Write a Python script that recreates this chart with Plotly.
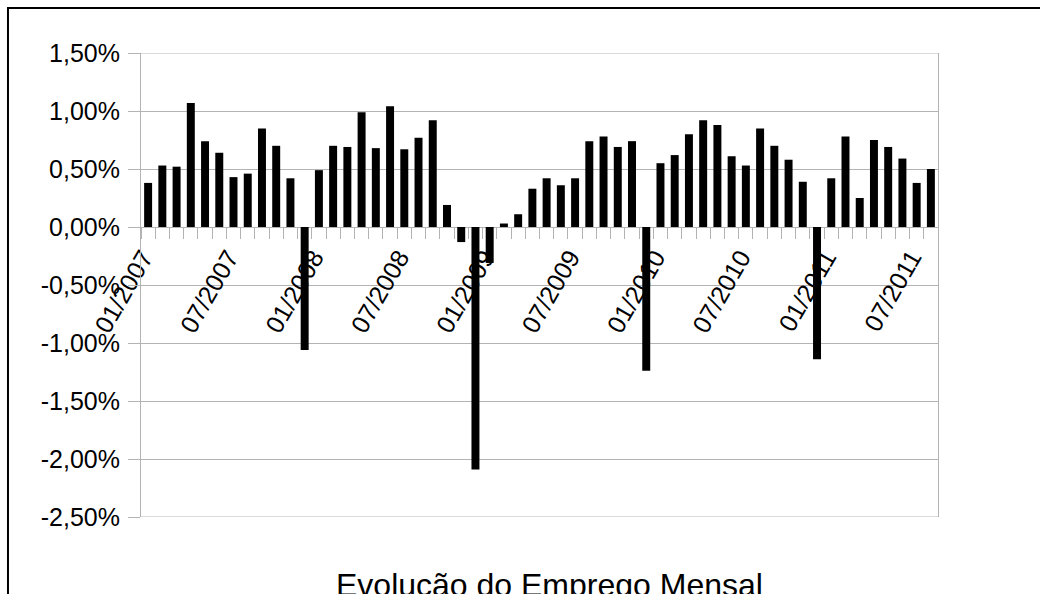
import plotly.graph_objects as go

# Monthly employment change (%), Jan 2007 - Aug 2011
years = [2007, 2008, 2009, 2010, 2011]
values_2007 = [0.38, 0.53, 0.52, 1.07, 0.74, 0.64, 0.43, 0.46, 0.85, 0.70, 0.42, -1.06]
values_2008 = [0.49, 0.70, 0.69, 0.99, 0.68, 1.04, 0.67, 0.77, 0.92, 0.19, -0.13, -2.09]
values_2009 = [-0.31, 0.03, 0.11, 0.33, 0.42, 0.36, 0.42, 0.74, 0.78, 0.69, 0.74, -1.24]
values_2010 = [0.55, 0.62, 0.80, 0.92, 0.88, 0.61, 0.53, 0.85, 0.70, 0.58, 0.39, -1.14]
values_2011 = [0.42, 0.78, 0.25, 0.75, 0.69, 0.59, 0.38, 0.50]

y_ticks = [1.5, 1.0, 0.5, 0.0, -0.5, -1.0, -1.5, -2.0, -2.5]
y_tick_labels = ["1,50%", "1,00%", "0,50%", "0,00%", "-0,50%",
                 "-1,00%", "-1,50%", "-2,00%", "-2,50%"]

title_text = "Evolução do Emprego Mensal"

yearly = [values_2007, values_2008, values_2009, values_2010, values_2011]
months = []
values = []
for yr, vals in zip(years, yearly):
    for i, v in enumerate(vals):
        months.append(f"{i + 1:02d}/{yr}")
        values.append(v)

# label only January and July
x_tick_text = [m if m[:2] in ("01", "07") else "" for m in months]

GRID = "#b3b3b3"
FONT = "Liberation Sans, Arial, sans-serif"

fig = go.Figure(
    go.Bar(
        x=months,
        y=values,
        marker=dict(color="black", line=dict(width=0)),
        showlegend=False,
    )
)

y_min, y_max = -2.5, 1.5
zero_pos = (0 - y_min) / (y_max - y_min)

fig.update_layout(
    width=1040,
    height=594,
    margin=dict(l=141, r=102, t=53, b=77),
    paper_bgcolor="white",
    plot_bgcolor="white",
    font=dict(family=FONT, color="black", size=25),
    bargap=0.44,
    xaxis=dict(
        type="category",
        tickmode="array",
        tickvals=months,
        ticktext=x_tick_text,
        tickangle=-60,
        tickson="boundaries",
        ticks="outside",
        ticklen=11,
        tickcolor=GRID,
        tickwidth=1,
        ticklabelstandoff=5,
        ticklabelshift=-5,
        showgrid=False,
        showline=True,
        linecolor=GRID,
        linewidth=1,
        anchor="free",
        position=zero_pos,
        layer="below traces",
        tickfont=dict(size=25, family=FONT, color="black"),
    ),
    yaxis=dict(
        range=[y_min, y_max],
        tickmode="array",
        tickvals=y_ticks,
        ticktext=y_tick_labels,
        ticks="outside",
        ticklen=12,
        tickcolor=GRID,
        ticklabelstandoff=3,
        showgrid=True,
        gridcolor=GRID,
        gridwidth=1,
        zeroline=False,
        showline=True,
        linecolor=GRID,
        linewidth=1,
        mirror=True,
        tickfont=dict(size=25, family=FONT, color="black"),
    ),
    annotations=[
        dict(
            text=title_text,
            xref="paper",
            yref="paper",
            x=0.512,
            y=-0.146,
            xanchor="center",
            yanchor="middle",
            showarrow=False,
            font=dict(size=32, family=FONT, color="black"),
        )
    ],
    shapes=[
        # outer chart frame
        dict(
            type="rect",
            xref="paper",
            yref="paper",
            x0=-0.1669,
            x1=1.2,
            y0=-0.3,
            y1=1.097,
            line=dict(color="black", width=2),
            fillcolor="rgba(0,0,0,0)",
            layer="below",
        ),
        # top and bottom plot edges
        dict(type="line", xref="paper", yref="y", x0=0, x1=1, y0=y_max, y1=y_max,
             line=dict(color=GRID, width=1), layer="below"),
        dict(type="line", xref="paper", yref="y", x0=0, x1=1, y0=y_min, y1=y_min,
             line=dict(color=GRID, width=1), layer="below"),
    ],
)

fig.write_html("out.html")
